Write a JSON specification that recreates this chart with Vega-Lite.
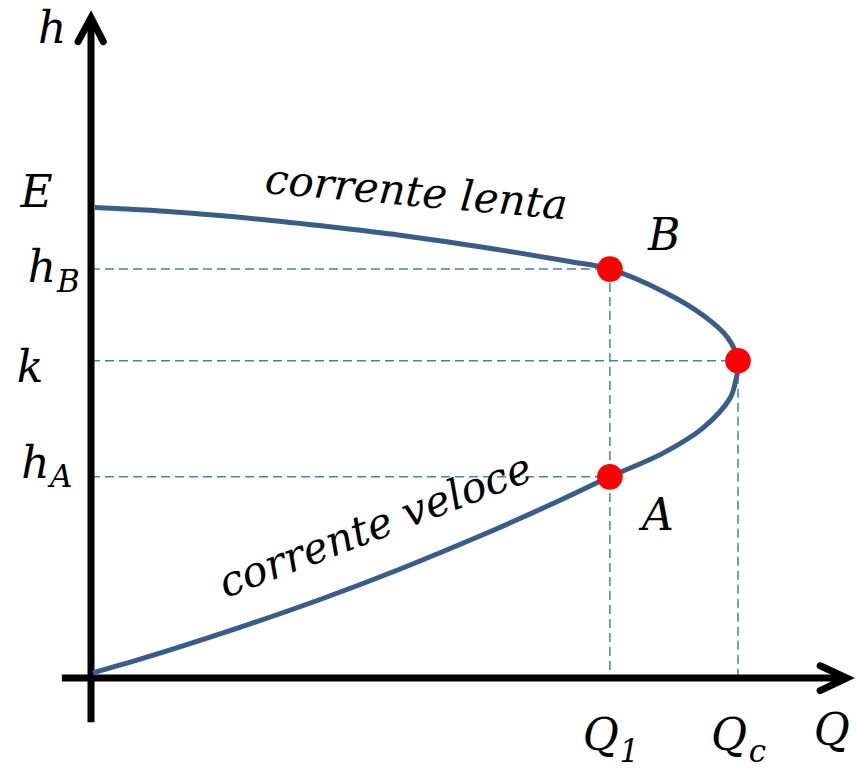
{
  "$schema": "https://vega.github.io/schema/vega-lite/v6.json",
  "width": 856,
  "height": 769,
  "autosize": "none",
  "padding": 0,
  "background": "white",
  "config": {"view": {"stroke": null}},
  "datasets": {
    "curve": [
      {"i": 1, "Q": 0.006, "h": 1.001},
      {"i": 2, "Q": 0.091, "h": 0.995},
      {"i": 3, "Q": 0.169, "h": 0.987},
      {"i": 4, "Q": 0.261, "h": 0.976},
      {"i": 5, "Q": 0.369, "h": 0.960},
      {"i": 6, "Q": 0.478, "h": 0.942},
      {"i": 7, "Q": 0.570, "h": 0.924},
      {"i": 8, "Q": 0.663, "h": 0.904},
      {"i": 9, "Q": 0.740, "h": 0.886},
      {"i": 10, "Q": 0.802, "h": 0.870},
      {"i": 11, "Q": 0.885, "h": 0.822},
      {"i": 12, "Q": 0.946, "h": 0.772},
      {"i": 13, "Q": 0.983, "h": 0.726},
      {"i": 14, "Q": 1.000, "h": 0.675},
      {"i": 15, "Q": 0.995, "h": 0.624},
      {"i": 16, "Q": 0.988, "h": 0.596},
      {"i": 17, "Q": 0.946, "h": 0.532},
      {"i": 18, "Q": 0.885, "h": 0.479},
      {"i": 19, "Q": 0.802, "h": 0.428},
      {"i": 20, "Q": 0.709, "h": 0.368},
      {"i": 21, "Q": 0.601, "h": 0.302},
      {"i": 22, "Q": 0.478, "h": 0.232},
      {"i": 23, "Q": 0.354, "h": 0.167},
      {"i": 24, "Q": 0.246, "h": 0.115},
      {"i": 25, "Q": 0.153, "h": 0.073},
      {"i": 26, "Q": 0.076, "h": 0.040},
      {"i": 27, "Q": 0.003, "h": 0.011}
    ],
    "guides": [
      {"name": "hB", "Q": 0, "h": 0.870, "Q2": 0.802, "h2": 0.870},
      {"name": "k", "Q": 0, "h": 0.675, "Q2": 1.0, "h2": 0.675},
      {"name": "hA", "Q": 0, "h": 0.428, "Q2": 0.802, "h2": 0.428},
      {"name": "Q1", "Q": 0.802, "h": 0.870, "Q2": 0.802, "h2": 0},
      {"name": "Qc", "Q": 1.0, "h": 0.675, "Q2": 1.0, "h2": 0}
    ],
    "axes": [
      {"name": "Q axis", "Q": -0.045, "h": 0, "Q2": 1.165, "h2": 0},
      {"name": "h axis", "Q": 0, "h": -0.094, "Q2": 0, "h2": 1.400}
    ],
    "arrows": [
      {"arrow": "Q", "i": 1, "Q": 1.127, "h": 0.026},
      {"arrow": "Q", "i": 2, "Q": 1.168, "h": 0},
      {"arrow": "Q", "i": 3, "Q": 1.127, "h": -0.027},
      {"arrow": "h", "i": 1, "Q": -0.020, "h": 1.354},
      {"arrow": "h", "i": 2, "Q": 0, "h": 1.405},
      {"arrow": "h", "i": 3, "Q": 0.019, "h": 1.354}
    ],
    "points": [
      {"name": "B", "Q": 0.802, "h": 0.870},
      {"name": "K", "Q": 1.0, "h": 0.675},
      {"name": "A", "Q": 0.802, "h": 0.428}
    ],
    "labels": [
      {"role": "main", "text": "h", "Q": -0.060, "h": 1.351},
      {"role": "main", "text": "E", "Q": -0.084, "h": 1.002},
      {"role": "main", "text": "h", "Q": -0.076, "h": 0.843},
      {"role": "sub", "text": "B", "Q": -0.035, "h": 0.821},
      {"role": "main", "text": "k", "Q": -0.094, "h": 0.630},
      {"role": "main", "text": "h", "Q": -0.086, "h": 0.426},
      {"role": "sub", "text": "A", "Q": -0.046, "h": 0.406},
      {"role": "main", "text": "B", "Q": 0.886, "h": 0.911},
      {"role": "main", "text": "A", "Q": 0.876, "h": 0.315},
      {"role": "main", "text": "Q", "Q": 0.788, "h": -0.153},
      {"role": "sub", "text": "1", "Q": 0.832, "h": -0.179},
      {"role": "main", "text": "Q", "Q": 0.986, "h": -0.153},
      {"role": "sub", "text": "c", "Q": 1.030, "h": -0.179},
      {"role": "main", "text": "Q", "Q": 1.145, "h": -0.143},
      {"role": "slow", "text": "corrente lenta", "Q": 0.501, "h": 1.004},
      {"role": "fast", "text": "corrente veloce", "Q": 0.447, "h": 0.296}
    ]
  },
  "encoding": {
    "x": {"field": "Q", "type": "quantitative", "axis": null,
          "scale": {"domain": [-0.14065, 1.18238], "nice": false, "zero": false}},
    "y": {"field": "h", "type": "quantitative", "axis": null,
          "scale": {"domain": [-0.19362, 1.44255], "nice": false, "zero": false}}
  },
  "layer": [
    {
      "data": {"name": "guides"},
      "mark": {"type": "rule", "color": "#4a7ebb", "strokeWidth": 1.5, "strokeDash": [9, 5]},
      "encoding": {"x2": {"field": "Q2"}, "y2": {"field": "h2"}}
    },
    {
      "data": {"name": "axes"},
      "mark": {"type": "rule", "color": "black", "strokeWidth": 7, "strokeCap": "butt"},
      "encoding": {"x2": {"field": "Q2"}, "y2": {"field": "h2"}}
    },
    {
      "data": {"name": "arrows"},
      "mark": {"type": "line", "color": "black", "strokeWidth": 7, "strokeCap": "round", "strokeJoin": "miter"},
      "encoding": {"detail": {"field": "arrow"}, "order": {"field": "i"}}
    },
    {
      "data": {"name": "curve"},
      "mark": {"type": "line", "color": "#385d8a", "strokeWidth": 5, "interpolate": "catmull-rom"},
      "encoding": {"order": {"field": "i"}}
    },
    {
      "data": {"name": "points"},
      "mark": {"type": "point", "shape": "circle", "filled": true, "color": "#ff0000", "opacity": 1, "size": 660, "strokeWidth": 0}
    },
    {
      "data": {"name": "labels"},
      "transform": [{"filter": "datum.role === 'main'"}],
      "mark": {"type": "text", "font": "DejaVu Serif", "fontStyle": "italic", "fontSize": 44, "align": "center", "baseline": "alphabetic", "color": "black"},
      "encoding": {"text": {"field": "text"}}
    },
    {
      "data": {"name": "labels"},
      "transform": [{"filter": "datum.role === 'sub'"}],
      "mark": {"type": "text", "font": "DejaVu Serif", "fontStyle": "italic", "fontSize": 31, "align": "center", "baseline": "alphabetic", "color": "black"},
      "encoding": {"text": {"field": "text"}}
    },
    {
      "data": {"name": "labels"},
      "transform": [{"filter": "datum.role === 'slow'"}],
      "mark": {"type": "text", "font": "DejaVu Serif", "fontStyle": "italic", "fontSize": 42, "align": "center", "baseline": "alphabetic", "angle": 5, "color": "black"},
      "encoding": {"text": {"field": "text"}}
    },
    {
      "data": {"name": "labels"},
      "transform": [{"filter": "datum.role === 'fast'"}],
      "mark": {"type": "text", "font": "DejaVu Serif", "fontStyle": "italic", "fontSize": 42, "align": "center", "baseline": "alphabetic", "angle": -21, "color": "black"},
      "encoding": {"text": {"field": "text"}}
    }
  ]
}
